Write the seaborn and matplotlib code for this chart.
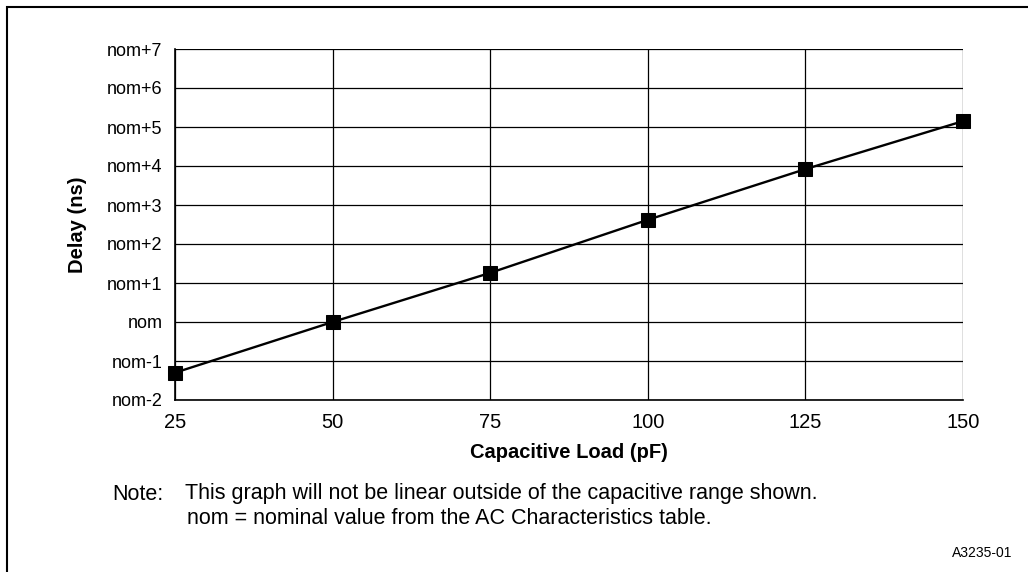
import numpy as np
import pandas as pd
import matplotlib
matplotlib.use("Agg")
import matplotlib.pyplot as plt
import seaborn as sns
from matplotlib.patches import Rectangle

# data
load_pf = [25, 50, 75, 100, 125, 150]
delay_offset = [-1.3, 0.0, 1.26, 2.62, 3.92, 5.15]
y_ticks = [-2, -1, 0, 1, 2, 3, 4, 5, 6, 7]
y_tick_labels = ["nom-2", "nom-1", "nom", "nom+1", "nom+2", "nom+3",
                 "nom+4", "nom+5", "nom+6", "nom+7"]

sns.set_style("white")
plt.rcParams['font.family'] = ['Liberation Sans', 'DejaVu Sans']
plt.rcParams['text.color'] = 'black'
plt.rcParams['axes.labelcolor'] = 'black'
plt.rcParams['xtick.color'] = 'black'
plt.rcParams['ytick.color'] = 'black'

df = pd.DataFrame({"load": load_pf, "delay": delay_offset})

fig = plt.figure(figsize=(10.28, 5.72), dpi=100)
ax = fig.add_axes([175 / 1028, 1 - 400 / 572, (963 - 175) / 1028, (400 - 49) / 572])

sns.lineplot(data=df, x="load", y="delay", ax=ax, color="black", linewidth=1.7,
             marker="s", markersize=10, markeredgecolor="black", zorder=5,
             clip_on=False)

ax.set_xlim(25, 150)
ax.set_ylim(-2, 7)
ax.set_xticks(load_pf)
ax.set_yticks(y_ticks)
ax.set_yticklabels(y_tick_labels)
ax.tick_params(axis="x", labelsize=14.5, length=3, width=1, pad=6)
ax.tick_params(axis="y", labelsize=13, length=4, width=1, pad=5)
ax.grid(True, color="black", linewidth=0.9)
for side in ["top", "right"]:
    ax.spines[side].set_visible(False)
for side in ["left", "bottom"]:
    ax.spines[side].set_color("black")
    ax.spines[side].set_linewidth(1.2)

ax.set_xlabel("Capacitive Load (pF)", fontsize=14.5, fontweight="bold")
ax.set_ylabel("Delay (ns)", fontsize=14.5, fontweight="bold")
ax.xaxis.set_label_coords(0.5, -0.122)
ax.yaxis.set_label_coords(-0.112, 0.5)

fig.text(112 / 1028, 1 - 494 / 572, "Note:", fontsize=15.5, va="center", ha="left")
fig.text(185 / 1028, 1 - 494 / 572,
         "This graph will not be linear outside of the capacitive range shown.",
         fontsize=15.5, va="center", ha="left")
fig.text(187 / 1028, 1 - 518 / 572,
         "nom = nominal value from the AC Characteristics table.",
         fontsize=15.5, va="center", ha="left")
fig.text(1012 / 1028, 1 - 553 / 572, "A3235-01", fontsize=10, va="center", ha="right")

# outer frame (runs off the right and bottom edges)
fig.patches.append(Rectangle((7 / 1028, -0.05), 1.1, 1 - 7 / 572 + 0.05,
                             transform=fig.transFigure, fill=False,
                             edgecolor="black", linewidth=1.5))

fig.savefig("out.png", dpi=100)
